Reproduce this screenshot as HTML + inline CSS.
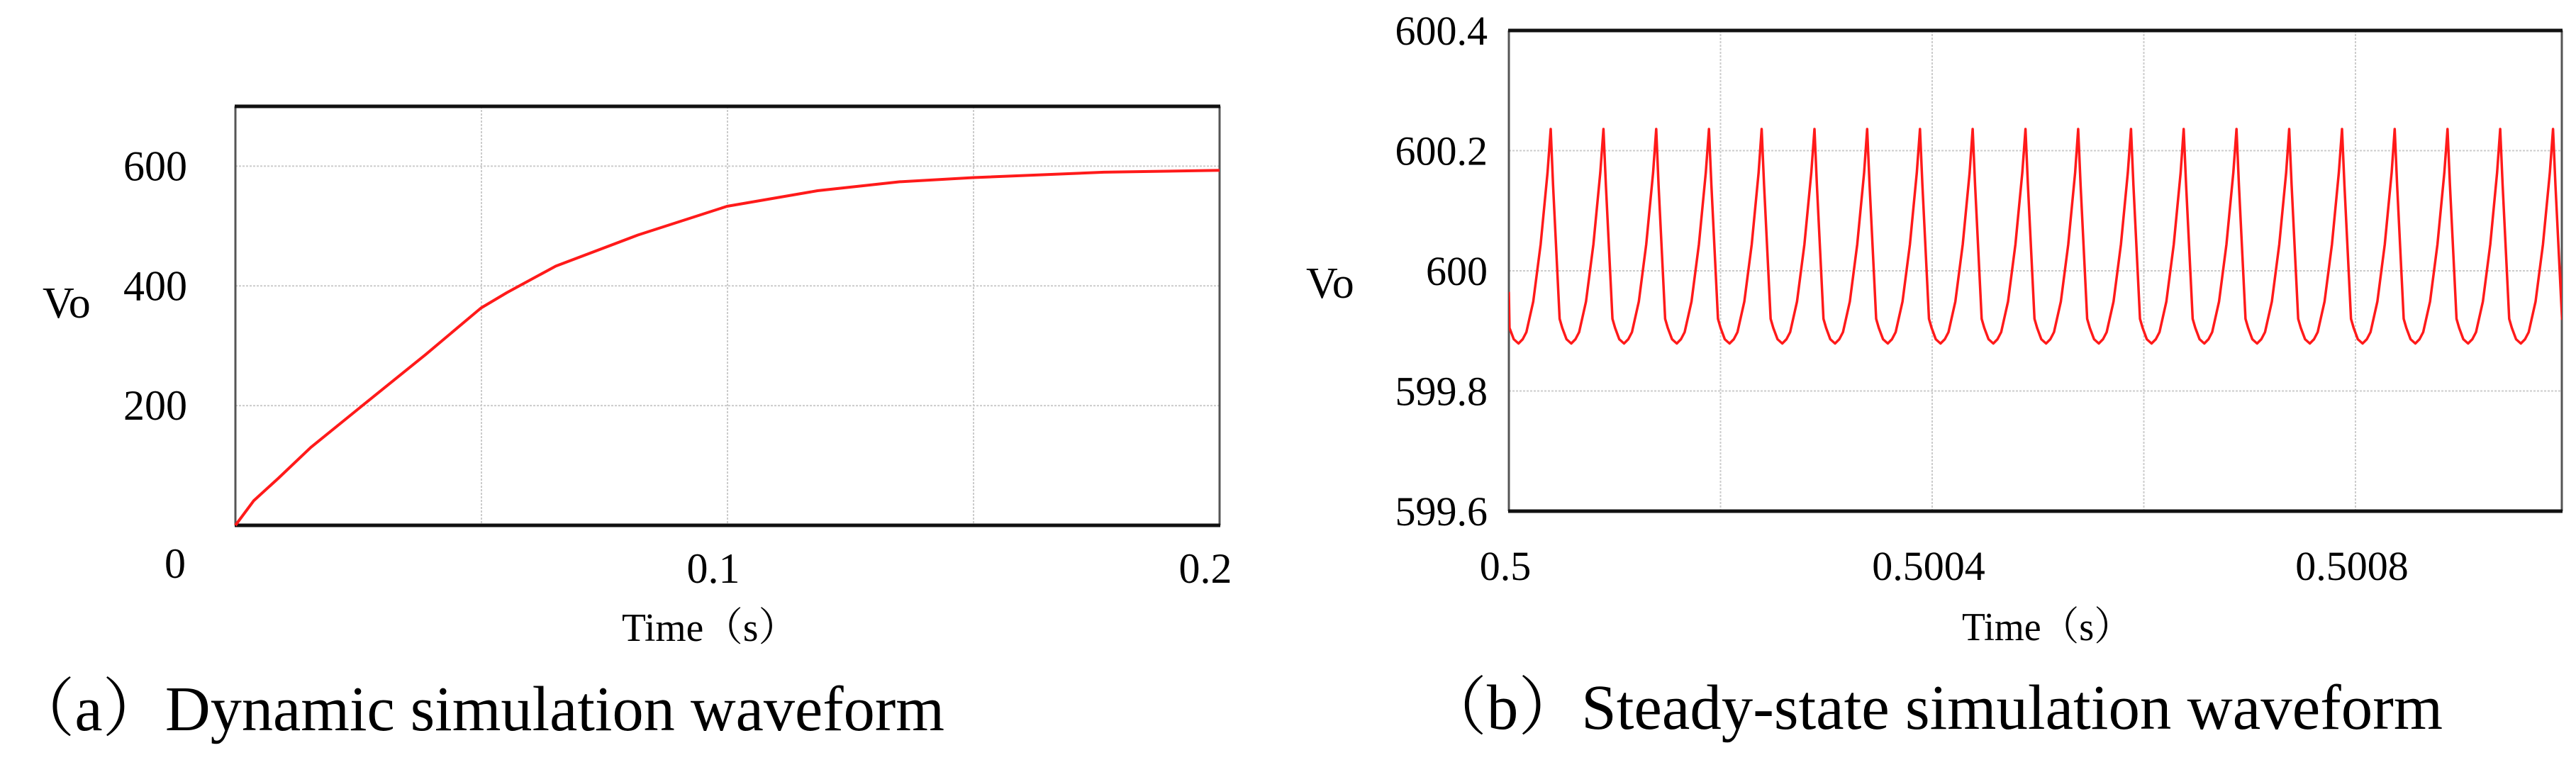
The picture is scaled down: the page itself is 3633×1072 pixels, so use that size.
<!DOCTYPE html>
<html><head><meta charset="utf-8">
<style>
html,body{margin:0;padding:0;background:#fff;}
svg{display:block;}
text{font-family:"Liberation Serif","Noto Serif CJK SC",serif;fill:#000;}
</style></head>
<body>
<svg id="fig" width="3633" height="1072" viewBox="0 0 3633 1072" xmlns="http://www.w3.org/2000/svg">
<rect width="3633" height="1072" fill="#fff"/>
<g id="left"></g>
<g id="right"></g>
<text x="17" y="1030" font-size="90" textLength="1315" lengthAdjust="spacingAndGlyphs">（a）Dynamic simulation waveform</text>
<text x="2008" y="1028" font-size="90" textLength="1437" lengthAdjust="spacingAndGlyphs">（b）Steady-state simulation waveform</text>
</svg>
<script>
// ---- Left chart data ----
const dynTimes = [0, 0.0037, 0.00865, 0.0153, 0.0252, 0.0386, 0.0499, 0.0552, 0.0651, 0.0818, 0.0999, 0.1183, 0.135, 0.15, 0.1765, 0.2];
const dynValues = [0, 41, 78, 130, 196, 285, 363, 389, 433, 485, 533, 559, 574, 581, 590, 593];
const dynYTicks = [200, 400, 600];
const dynYTickLabels = ["200", "400", "600"];
const dynXTicks = [0.05, 0.1, 0.15];
const dynXTickLabels = ["0.1", "0.2"];
// ---- Right chart data ----
const ssPeakTimes = [0.5000395,0.5000894,0.5001392,0.5001891,0.5002389,0.5002888,0.5003386,0.5003885,0.5004383,0.5004882,0.5005380,0.5005879,0.5006377,0.5006876,0.5007374,0.5007873,0.5008371,0.5008870,0.5009368,0.5009867];
const ssPeakValues = [600.236,600.236,600.236,600.236,600.236,600.236,600.236,600.236,600.236,600.236,600.236,600.236,600.236,600.236,600.236,600.236,600.236,600.236,600.236,600.236];
const ssTroughValues = [599.879,599.879,599.879,599.879,599.879,599.879,599.879,599.879,599.879,599.879,599.879,599.879,599.879,599.879,599.879,599.879,599.879,599.879,599.879,599.879];
const ssPeriod = 0.00004985;
const ssShapeFrac = [0, 0.045, 0.17, 0.22, 0.30, 0.39, 0.47, 0.54, 0.67, 0.81, 0.94];
const ssShapeLevel = [1, 0.74, 0.115, 0.073, 0.02, 0, 0.02, 0.053, 0.196, 0.462, 0.796];
const ssStart = [0.5, 599.965];
const ssEnd = [0.500996, 600.01];
const ssYTicks = [599.6, 599.8, 600, 600.2, 600.4];
const ssYTickLabels = ["599.6", "599.8", "600", "600.2", "600.4"];
const ssXGrid = [0.5002, 0.5004, 0.5006, 0.5008];
const ssXTicks = [0.5, 0.5004, 0.5008];
const ssXTickLabels = ["0.5", "0.5004", "0.5008"];

const NS = "http://www.w3.org/2000/svg";
function mk(parent, tag, attrs, txt){
  const e = document.createElementNS(NS, tag);
  for (const k in attrs) e.setAttribute(k, attrs[k]);
  if (txt !== undefined) e.textContent = txt;
  parent.appendChild(e); return e;
}
function frame(g, L, R, T, B, name){
  const r = mk(g, "line", {x1:L,y1:T,x2:L,y2:B,stroke:"#555","stroke-width":3});
  
  
  const r2 = mk(g, "line", {x1:R,y1:T,x2:R,y2:B,stroke:"#555","stroke-width":3});
  
  
  const t = mk(g, "line", {x1:L-1,y1:T,x2:R+1,y2:T,stroke:"#111","stroke-width":5});
  
  
  const b = mk(g, "line", {x1:L-1,y1:B,x2:R+1,y2:B,stroke:"#111","stroke-width":5});
  
  
}

// ----- LEFT -----
(function(){
  const g = document.getElementById("left");
  const L=332, R=1720, T=150, B=741;
  const xS = t => L + (t-0)/(0.2-0)*(R-L);
  const yS = v => B - (v-0)/(700-0)*(B-T);
  dynYTicks.forEach((v,i)=>{
    const l = mk(g,"line",{x1:L,x2:R,y1:yS(v),y2:yS(v),stroke:"#ccc","stroke-width":2,"stroke-dasharray":"3 2"});
    
    
    const tx = mk(g,"text",{x:264,y:yS(v)+20,"font-size":60,"text-anchor":"end"},dynYTickLabels[i]);
    
    
  });
  dynXTicks.forEach(t=>{
    const l = mk(g,"line",{x1:xS(t),x2:xS(t),y1:T,y2:B,stroke:"#ccc","stroke-width":2,"stroke-dasharray":"3 2"});
    
    
  });
  const z = mk(g,"text",{x:247,y:815,"font-size":60,"text-anchor":"middle"},"0");
  
  
  [0.1,0.2].forEach((t,i)=>{
    const tx = mk(g,"text",{x:xS(t)-20,y:822,"font-size":60,"text-anchor":"middle"},dynXTickLabels[i]);
    
    
  });
  frame(g,L,R,T,B,"dynamic");
  let d = "";
  dynTimes.forEach((t,i)=>{ d += (i?"L":"M") + xS(t).toFixed(1) + "," + yS(dynValues[i]).toFixed(1); });
  const p = mk(g,"path",{d:d,fill:"none",stroke:"#ff1a1a","stroke-width":4,"stroke-linejoin":"round"});
  
  
  const vo = mk(g,"text",{x:60,y:448,"font-size":62},"Vo");
  
  
  const xt = mk(g,"text",{x:877,y:904,"font-size":56,textLength:248,lengthAdjust:"spacingAndGlyphs"},"Time（s）");
  
  
})();

// ----- RIGHT -----
(function(){
  const g = document.getElementById("right");
  const L=2128, R=3613, T=43, B=721;
  const x0=0.5, x1=0.500995;
  const xS = t => L + (t-x0)/(x1-x0)*(R-L);
  const yS = v => B - (v-599.6)/(600.4-599.6)*(B-T);
  ssYTicks.forEach((v,i)=>{
    if (i>0 && i<ssYTicks.length-1){
      const l = mk(g,"line",{x1:L,x2:R,y1:yS(v),y2:yS(v),stroke:"#ccc","stroke-width":2,"stroke-dasharray":"3 2"});
      
      
    }
    const tx = mk(g,"text",{x:2098,y:yS(v)+20,"font-size":58,"text-anchor":"end"},ssYTickLabels[i]);
    
    
  });
  ssXGrid.forEach(t=>{
    const l = mk(g,"line",{x1:xS(t),x2:xS(t),y1:T,y2:B,stroke:"#ccc","stroke-width":2,"stroke-dasharray":"3 2"});
    
    
  });
  ssXTicks.forEach((t,i)=>{
    const tx = mk(g,"text",{x:xS(t)-5,y:818,"font-size":58,"text-anchor":"middle"},ssXTickLabels[i]);
    
    
  });
  frame(g,L,R,T,B,"steady");
  mk(g,"clipPath",{id:"ssclip"});
  mk(document.getElementById("ssclip"),"rect",{x:L,y:T,width:R-L,height:B-T});
  const pts = [[ssStart[0], ssStart[1]]];
  for (let k=-1;k<ssPeakTimes.length;k++){
    const tp = k<0 ? ssPeakTimes[0]-ssPeriod : ssPeakTimes[k];
    const pv = ssPeakValues[Math.max(k,0)], tv = ssTroughValues[Math.max(k,0)];
    ssShapeFrac.forEach((f,j)=>{
      const t = tp + f*ssPeriod;
      if (t > ssStart[0] && t < ssEnd[0] - 0.0000004) pts.push([t, tv + ssShapeLevel[j]*(pv-tv)]);
    });
  }
  pts.push([ssEnd[0], ssEnd[1]]);
  let d="";
  pts.forEach((p,i)=>{ d += (i?"L":"M") + xS(p[0]).toFixed(1) + "," + yS(p[1]).toFixed(1); });
  const p = mk(g,"path",{d:d,fill:"none",stroke:"#ff1a1a","stroke-width":3.5,"stroke-linejoin":"round","clip-path":"url(#ssclip)"});
  
  
  const vo = mk(g,"text",{x:1842,y:420,"font-size":62},"Vo");
  
  
  const xt = mk(g,"text",{x:2767,y:903,"font-size":56,textLength:240,lengthAdjust:"spacingAndGlyphs"},"Time（s）");
  
  
})();
</script>
</body></html>
